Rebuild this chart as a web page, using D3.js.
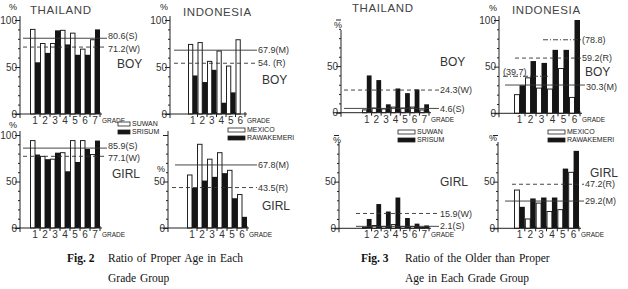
<!DOCTYPE html>
<html>
<head>
<meta charset="utf-8">
<script src="https://cdn.jsdelivr.net/npm/d3@7"></script>
<style>
  body { margin: 0; background: #fff; }
  text { font-family: "Liberation Sans", "DejaVu Sans", sans-serif; fill: #222; }
  .cap { font-family: "Liberation Serif", "DejaVu Serif", serif; font-size: 11.5px; fill: #111; }
</style>
</head>
<body>
<div id="chart"></div>
<script>
// grade categories
var grades7 = ["1", "2", "3", "4", "5", "6", "7"];
var grades6 = ["1", "2", "3", "4", "5", "6"];

// Fig. 2 ratio of proper age (%)
var f2ThaiBoySuwan   = [90, 75, 75, 89, 86, 69, 79];
var f2ThaiBoySrisum  = [55, 65, 89, 74, 63, 63, 90];
var f2ThaiGirlSuwan  = [94, 77, 74, 81, 94, 94, 79];
var f2ThaiGirlSrisum = [79, 74, 81, 61, 71, 85, 94];
var f2IndoBoyMexico  = [74, 76, 56, 67, 51, 79];
var f2IndoBoyRawa    = [41, 34, 47, 12, 23, 0];
var f2IndoGirlMexico = [57, 90, 74, 81, 62, 36];
var f2IndoGirlRawa   = [43, 51, 55, 59, 32, 12];

// Fig. 3 ratio of the older than proper age (%)
var f3ThaiBoySuwan   = [3, 5, 4, 6, 5, 6, 3];
var f3ThaiBoySrisum  = [40, 35, 9, 26, 21, 25, 9];
var f3ThaiGirlSuwan  = [1, 3, 2, 4, 2, 2, 1];
var f3ThaiGirlSrisum = [10, 26, 18, 33, 11, 5, 3];
var f3IndoBoyMexico  = [20, 38, 27, 26, 48, 17];
var f3IndoBoyRawa    = [30, 56, 54, 68, 68, 100];
var f3IndoGirlMexico = [41, 10, 27, 18, 20, 60];
var f3IndoGirlRawa   = [23, 32, 33, 33, 64, 83];

// reference values written beside each panel
var f2ThaiBoyRefs  = [80.6, 71.2];
var f2ThaiGirlRefs = [85.9, 77.1];
var f2IndoBoyRefs  = [67.9, 54.0];
var f2IndoGirlRefs = [67.8, 43.5];
var f3ThaiBoyRefs  = [24.3, 4.6];
var f3ThaiGirlRefs = [15.9, 2.1];
var f3IndoBoyRefs  = [78.8, 59.2, 30.3, 39.7];
var f3IndoGirlRefs = [47.2, 29.2];

var svg = d3.select("#chart")
  .append("svg")
  .attr("width", 628)
  .attr("height", 289);

function drawPanel(p) {
  var g = svg.append("g");
  var y = d3.scaleLinear().domain([0, 100]).range([p.y0, p.y100]);
  var x = d3.scaleBand().domain(p.grades).range(p.xr);
  var bw = x.bandwidth();

  // y axis with minor ticks every 10
  var yAxis = g.append("g")
    .attr("transform", `translate(${p.ax}, 0)`)
    .call(d3.axisLeft(y)
      .tickValues(d3.range(0, 101, 10))
      .tickSize(2)
      .tickSizeOuter(0)
      .tickFormat(d => p.yLabels.indexOf(d) >= 0 ? d : ""));
  yAxis.select(".domain").attr("stroke", "#222").attr("d", `M0,${p.y0 + 4}V${p.yTop}`);
  yAxis.selectAll(".tick line").attr("stroke", "#222")
    .attr("x2", d => d % 50 === 0 ? -5 : -2);
  yAxis.selectAll(".tick text").attr("x", -3).attr("font-size", 10).style("fill", "#333");

  if (p.pct) {
    g.append("text").attr("x", p.pct[0]).attr("y", p.pct[1])
      .attr("font-size", 9).text("%");
  }

  // bars: white then black in each grade
  g.selectAll(".w").data(p.white).enter().append("rect")
    .attr("x", (d, i) => x(p.grades[i]) + 0.5)
    .attr("y", d => y(d))
    .attr("width", bw / 2 - 0.5)
    .attr("height", d => p.y0 - y(d))
    .attr("fill", "#fff").attr("stroke", "#222").attr("stroke-width", 1);
  g.selectAll(".b").data(p.black).enter().append("rect")
    .attr("x", (d, i) => x(p.grades[i]) + bw / 2)
    .attr("y", d => y(d))
    .attr("width", bw / 2)
    .attr("height", d => p.y0 - y(d))
    .attr("fill", "#151515");

  // x axis
  g.append("line")
    .attr("x1", p.ax - 8).attr("x2", p.xr[1] + 2)
    .attr("y1", p.y0).attr("y2", p.y0)
    .attr("stroke", "#222");
  g.selectAll(".xt").data(p.grades).enter().append("line")
    .attr("x1", d => x(d) + bw).attr("x2", d => x(d) + bw)
    .attr("y1", p.y0 - 2).attr("y2", p.y0 + 3)
    .attr("stroke", "#222");
  g.selectAll(".xl").data(p.grades).enter().append("text")
    .attr("x", d => x(d) + bw / 2)
    .attr("y", p.y0 + 10)
    .attr("text-anchor", "middle")
    .attr("font-size", 10)
    .style("fill", "#333")
    .text(d => d);
  g.append("text")
    .attr("x", p.xr[1] + 2).attr("y", p.y0 + 9)
    .attr("font-size", 6.5)
    .text("GRADE");

  // reference lines
  p.refs.forEach(function(r) {
    g.append("line")
      .attr("x1", r.x1).attr("x2", r.x2)
      .attr("y1", y(r.v)).attr("y2", y(r.v))
      .attr("stroke", "#333").attr("stroke-width", 0.9)
      .attr("stroke-dasharray", r.dash || null);
    if (r.label) {
      g.append("text")
        .attr("x", r.lx !== undefined ? r.lx : r.x2 + 1)
        .attr("y", y(r.v) + (r.dy || 0))
        .attr("dy", "0.35em")
        .attr("font-size", 9)
        .style("fill", "#333")
        .text(r.label);
    }
  });

  if (p.title) {
    g.append("text").attr("x", p.title[0]).attr("y", p.title[1])
      .attr("font-size", 11.5).attr("letter-spacing", 0.6)
      .style("fill", "#444").text(p.title[2]);
  }
  g.append("text").attr("x", p.sex[0]).attr("y", p.sex[1])
    .attr("font-size", 12).style("fill", "#333").text(p.sex[2]);

  if (p.legend) {
    p.legend.names.forEach(function(n, i) {
      var ly = p.legend.y + i * 8;
      g.append("rect")
        .attr("x", p.legend.x).attr("y", ly - 2)
        .attr("width", p.legend.w).attr("height", 4)
        .attr("fill", i === 0 ? "#fff" : "#151515")
        .attr("stroke", "#222").attr("stroke-width", 0.8);
      g.append("text")
        .attr("x", p.legend.x + p.legend.w + 2).attr("y", ly)
        .attr("dy", "0.35em").attr("font-size", 7)
        .text(n);
    });
  }
}

var DASH = "4,3";
var DASHDOT = "5,2,1,2";

// Fig. 2 THAILAND BOY
drawPanel({
  grades: grades7, white: f2ThaiBoySuwan, black: f2ThaiBoySrisum,
  ax: 20, xr: [30, 100], y0: 114, y100: 20, yTop: 16, yLabels: [0, 50, 100],
  pct: [9, 10], title: [30, 14, "THAILAND"], sex: [117, 68, "BOY"],
  refs: [
    {v: f2ThaiBoyRefs[0], x1: 23, x2: 107, label: "80.6(S)", dy: -2.5},
    {v: f2ThaiBoyRefs[1], x1: 23, x2: 107, dash: DASH, label: "71.2(W)", dy: 1.5}
  ],
  legend: {x: 118, y: 124, w: 12, names: ["SUWAN", "SRISUM"]}
});

// Fig. 2 INDONESIA BOY
drawPanel({
  grades: grades6, white: f2IndoBoyMexico, black: f2IndoBoyRawa,
  ax: 170, xr: [188, 245], y0: 114, y100: 20, yTop: 16, yLabels: [0, 50, 100],
  pct: [160, 10], title: [183, 16, "INDONESIA"], sex: [262, 84, "BOY"],
  refs: [
    {v: f2IndoBoyRefs[0], x1: 174, x2: 257, label: "67.9(M)"},
    {v: f2IndoBoyRefs[1], x1: 174, x2: 257, dash: DASH, label: "54. (R)"}
  ],
  legend: {x: 228, y: 130, w: 17, names: ["MEXICO", "RAWAKEMERI"]}
});

// Fig. 2 THAILAND GIRL
drawPanel({
  grades: grades7, white: f2ThaiGirlSuwan, black: f2ThaiGirlSrisum,
  ax: 20, xr: [30, 100], y0: 228, y100: 135, yTop: 131, yLabels: [0, 50, 100],
  pct: [9, 128], title: null, sex: [112, 178, "GIRL"],
  refs: [
    {v: f2ThaiGirlRefs[0], x1: 23, x2: 107, label: "85.9(S)", dy: -2.5},
    {v: f2ThaiGirlRefs[1], x1: 23, x2: 107, dash: DASH, label: "77.1(W)", dy: 1.5}
  ]
});

// Fig. 2 INDONESIA GIRL
drawPanel({
  grades: grades6, white: f2IndoGirlMexico, black: f2IndoGirlRawa,
  ax: 168, xr: [187, 247], y0: 228, y100: 135, yTop: 131, yLabels: [0, 50],
  pct: [157, 172], title: null, sex: [262, 210, "GIRL"],
  refs: [
    {v: f2IndoGirlRefs[0], x1: 175, x2: 257, label: "67.8(M)"},
    {v: f2IndoGirlRefs[1], x1: 172, x2: 257, dash: DASH, label: "43.5(R)"}
  ]
});

// Fig. 3 THAILAND BOY
drawPanel({
  grades: grades7, white: f3ThaiBoySuwan, black: f3ThaiBoySrisum,
  ax: 341, xr: [362, 429], y0: 112.7, y100: 19.5, yTop: 30, yLabels: [0, 50],
  pct: [334, 28], title: [352, 12, "THAILAND"], sex: [440, 66, "BOY"],
  refs: [
    {v: f3ThaiBoyRefs[0], x1: 344, x2: 439, dash: DASH, label: "24.3(W)"},
    {v: f3ThaiBoyRefs[1], x1: 344, x2: 439, label: "4.6(S)"}
  ],
  legend: {x: 398, y: 132, w: 17, names: ["SUWAN", "SRISUM"]}
});

// Fig. 3 INDONESIA BOY
drawPanel({
  grades: grades6, white: f3IndoBoyMexico, black: f3IndoBoyRawa,
  ax: 499, xr: [514, 580], y0: 113.3, y100: 20, yTop: 16, yLabels: [0, 50, 100],
  pct: [489, 11], title: [512, 14, "INDONESIA"], sex: [585, 76, "BOY"],
  refs: [
    {v: f3IndoBoyRefs[0], x1: 543, x2: 581, dash: DASHDOT, label: "(78.8)"},
    {v: f3IndoBoyRefs[1], x1: 515, x2: 581, dash: DASH, label: "59.2(R)"},
    {v: f3IndoBoyRefs[2], x1: 505, x2: 585, label: "30.3(M)", dy: 1.5},
    {v: f3IndoBoyRefs[3], x1: 503, x2: 548, dash: DASHDOT, label: "(39.7)", lx: 503, dy: -4}
  ],
  legend: {x: 548, y: 132, w: 17, names: ["MEXICO", "RAWAKEMERI"]}
});

// Fig. 3 THAILAND GIRL
drawPanel({
  grades: grades7, white: f3ThaiGirlSuwan, black: f3ThaiGirlSrisum,
  ax: 339, xr: [362, 429], y0: 228.3, y100: 135, yTop: 142, yLabels: [0, 50],
  pct: [333, 143], title: null, sex: [440, 186, "GIRL"],
  refs: [
    {v: f3ThaiGirlRefs[0], x1: 356, x2: 439, dash: DASH, label: "15.9(W)"},
    {v: f3ThaiGirlRefs[1], x1: 356, x2: 439, label: "2.1(S)"}
  ]
});

// Fig. 3 INDONESIA GIRL
drawPanel({
  grades: grades6, white: f3IndoGirlMexico, black: f3IndoGirlRawa,
  ax: 498, xr: [514, 579], y0: 228.3, y100: 135, yTop: 142, yLabels: [0, 50],
  pct: [489, 141], title: null, sex: [590, 177, "GIRL"],
  refs: [
    {v: f3IndoGirlRefs[0], x1: 512, x2: 584, dash: DASH, label: "47.2(R)"},
    {v: f3IndoGirlRefs[1], x1: 505, x2: 584, label: "29.2(M)"}
  ]
});

// captions
var cap2 = svg.append("g");
cap2.append("text").attr("class", "cap").attr("x", 67).attr("y", 262)
  .style("font-weight", "bold").attr("font-size", 12).text("Fig. 2");
cap2.append("text").attr("class", "cap").attr("x", 108).attr("y", 262)
  .attr("word-spacing", 1).text("Ratio of Proper Age in Each");
cap2.append("text").attr("class", "cap").attr("x", 108).attr("y", 282)
  .attr("word-spacing", 1).text("Grade Group");

var cap3 = svg.append("g");
cap3.append("text").attr("class", "cap").attr("x", 361).attr("y", 262)
  .style("font-weight", "bold").attr("font-size", 12).text("Fig. 3");
cap3.append("text").attr("class", "cap").attr("x", 405).attr("y", 262)
  .attr("word-spacing", 1).text("Ratio of the Older than Proper");
cap3.append("text").attr("class", "cap").attr("x", 405).attr("y", 282)
  .attr("word-spacing", 1).text("Age in Each Grade Group");
</script>
</body>
</html>
